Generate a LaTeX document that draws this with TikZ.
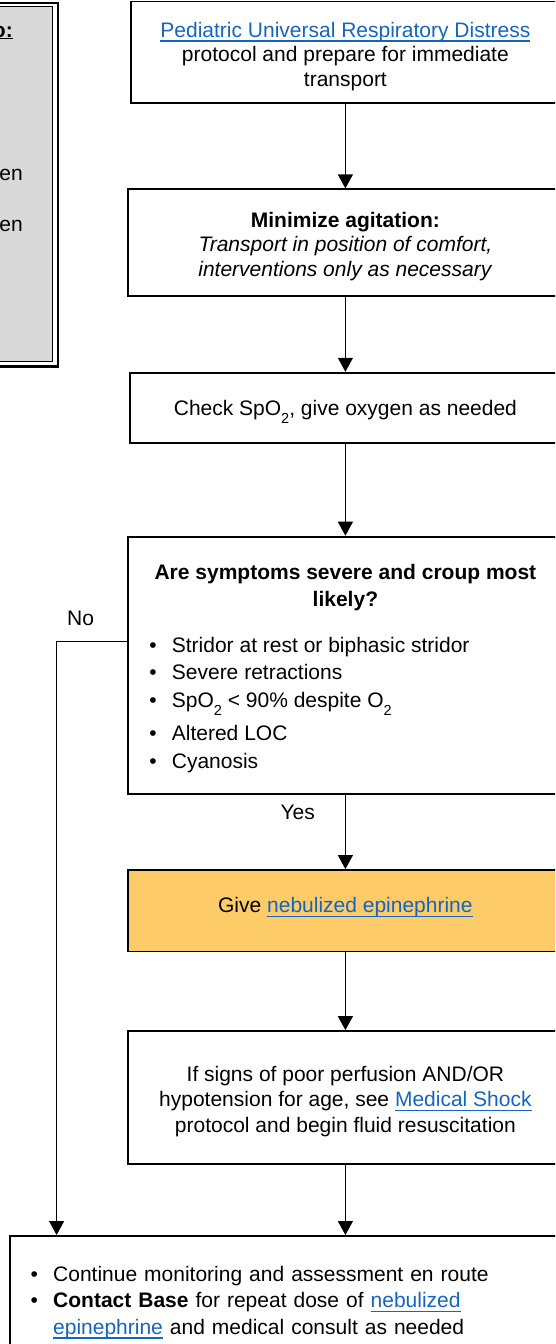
\documentclass[tikz,border=0pt]{standalone}
\usepackage{fontspec}
\setmainfont{Liberation Sans}
\usetikzlibrary{arrows.meta}

\definecolor{linkblue}{RGB}{21,101,192}
\definecolor{epiorange}{HTML}{FDCB68}
\definecolor{notegray}{HTML}{D9D9D9}

\newlength{\lnkwd}
\newcommand{\lnk}[1]{\settowidth{\lnkwd}{#1}\textcolor{linkblue}{\rlap{\rule[-4.3pt]{\lnkwd}{1.3pt}}#1}}
\newcommand{\bul}[1]{\par\noindent\makebox[22.5pt][l]{\textbullet}#1}
\newcommand{\lowsub}[1]{\raisebox{-8pt}{\fontsize{14.5}{14.5}\selectfont #1}}
\newcommand{\lift}[1]{\rule{0pt}{#1}}

\begin{document}
\begin{tikzpicture}[x=1pt, y=1pt,
    font=\fontsize{21}{24.5}\selectfont,
    box/.style={draw, line width=1.8pt, align=center, inner sep=0pt},
    flow/.style={line width=1.2pt, -{Triangle[width=15pt,length=14pt]}},
    tag/.style={inner sep=0pt}]

        \useasboundingbox (0,0) rectangle (555,-1344);
        \clip (0,0) rectangle (555,-1344);

        % --- Side note, cut off at the left edge ---
        \draw[line width=2.5pt] (-40,-3) rectangle (58,-366.5);
        \draw[line width=1.2pt, fill=notegray] (-40,-6.8) rectangle (52.5,-361.7);
        \node[tag, anchor=base east] (notehead) at (13,-37) {\underline{\textbf{o:}}};
        \node[tag, anchor=base east] (noteA) at (23,-180) {en};
        \node[tag, anchor=base east] (noteB) at (23,-231) {en};

        % --- Main column ---
        \node[box, minimum width=429.3pt, minimum height=101.8pt] (pured) at (345.4,-52.4)
            {\lift{23.5pt}\lnk{Pediatric Universal Respiratory Distress}\\protocol and prepare for immediate\\transport};
        \node[box, minimum width=434.4pt, minimum height=106.4pt] (agit) at (345.4,-242.5)
            {\lift{23.3pt}\textbf{Minimize agitation:}\\\textit{Transport in position of comfort,}\\\textit{interventions only as necessary}};
        \node[box, minimum width=430.8pt, minimum height=70.6pt] (spo) at (345.4,-408)
            {\lift{22.3pt}Check SpO\lowsub{2}, give oxygen as needed};
        \node[box, minimum width=434.6pt, minimum height=257.4pt] (croup) at (345.4,-665.3)
            {\begin{minipage}{392pt}\fontsize{21}{27.5}\selectfont
                \centering\bfseries\lift{21.3pt}Are symptoms severe and croup most\\likely?\par
                \vspace{18pt}\mdseries\raggedright
                \bul{Stridor at rest or biphasic stridor}
                \bul{Severe retractions}
                \bul{SpO\lowsub{2} < 90\% despite O\lowsub{2}}\par\vspace{6pt}
                \bul{Altered LOC}
                \bul{Cyanosis}
            \end{minipage}};
        \node[box, fill=epiorange, minimum width=434.6pt, minimum height=81.5pt] (epi) at (345.4,-910.75)
            {Give \lnk{nebulized epinephrine}\rule[-11pt]{0pt}{11pt}};
        \node[box, minimum width=434.6pt, minimum height=133pt, font=\fontsize{21}{25.5}\selectfont] (shock) at (345.4,-1097.5)
            {\lift{22.5pt}If signs of poor perfusion AND/OR\\hypotension for age, see \lnk{Medical Shock}\\protocol and begin fluid resuscitation};
        \node[box, anchor=north west, align=left, text width=560pt, inner xsep=21pt, inner ysep=19pt,
              font=\fontsize{21}{26.5}\selectfont] (enroute) at (8.8,-1235)
            {\bul{Continue monitoring and assessment en route}
             \bul{\parbox[t]{480pt}{\raggedright\textbf{Contact Base} for repeat dose of \lnk{nebulized}\\
                  \lnk{epinephrine} and medical consult as needed}}};

        % --- Arrows ---
        \draw[flow] (pured) -- (agit);
        \draw[flow] (agit) -- (spo);
        \draw[flow] (spo) -- (croup);
        \draw[flow] (croup) -- node[tag, pos=0.24, left=30pt] {Yes} (epi);
        \draw[flow] (epi) -- (shock);
        \draw[flow] (shock) -- (shock |- enroute.north);

        % No branch
        \coordinate (nobend) at (56.6,-641);
        \draw[flow, line width=1pt] (nobend -| croup.west) -- node[tag, pos=0.66, above=15pt] {No} (nobend)
            -- (nobend |- enroute.north);

\end{tikzpicture}
\end{document}
